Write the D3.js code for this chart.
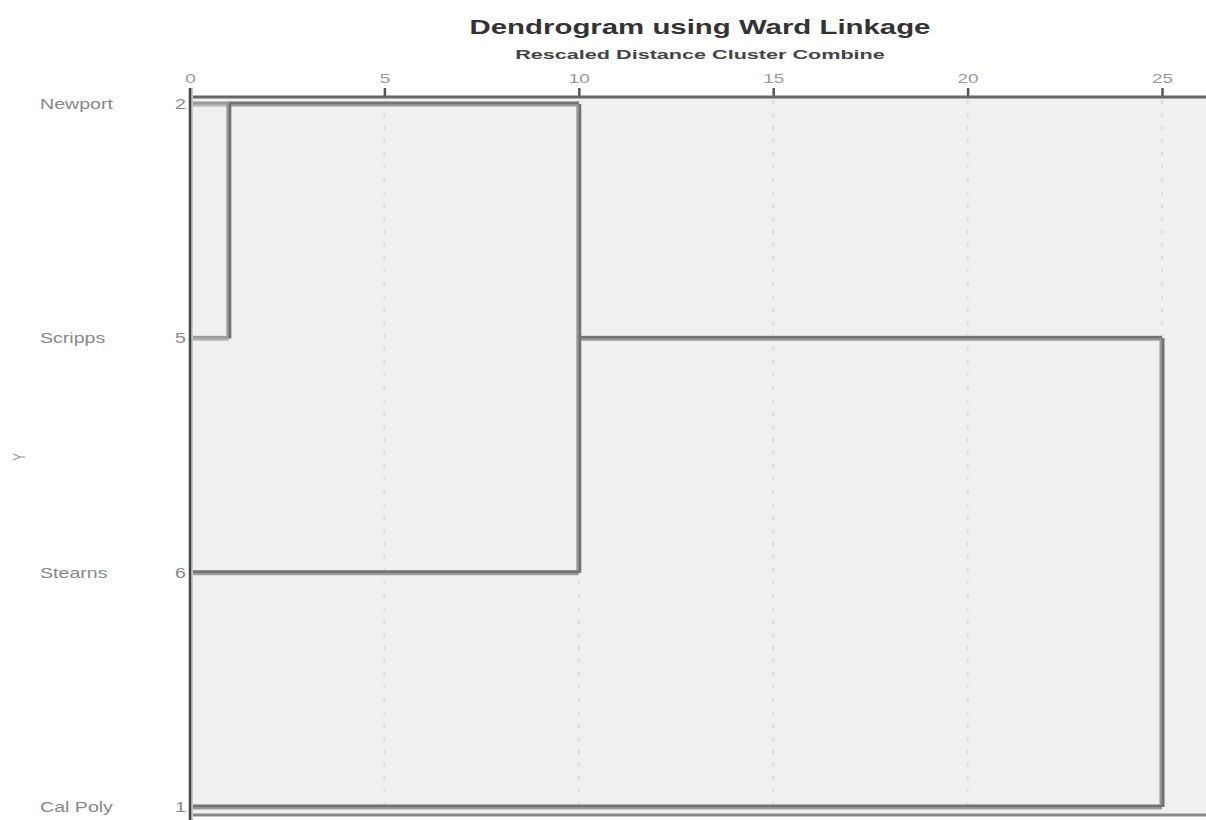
<!DOCTYPE html>
<html><head><meta charset="utf-8">
<script src="https://cdn.jsdelivr.net/npm/d3@7"></script>
<style>body{margin:0;background:#fff}svg{display:block}</style>
</head><body>
<svg id="c" width="1206" height="820"></svg>
<script>
const labels = ["Newport", "Scripps", "Stearns", "Cal Poly"];
const caseNums = ["2", "5", "6", "1"];
const ticks = [0, 5, 10, 15, 20, 25];
// merges: children (leaf labels or previous merge "m#"), rescaled distance, row where the cluster's line exits
const mergeChildren = [["Newport", "Scripps"], ["m0", "Stearns"], ["m1", "Cal Poly"]];
const mergeHeights = [1, 10, 25];
const mergeExitRow = ["Newport", "Scripps", null];

const svg = d3.select("#c");
const x = d3.scaleLinear().domain([0, 25]).range([190, 1162]);
const y = d3.scalePoint().domain(labels).range([104, 807]);
const SX = 1.4; // horizontal stretch of text as in the reference
const FONT = "Liberation Sans, Arial, sans-serif";

// plot background
svg.append("rect").attr("x", 190).attr("y", 97).attr("width", 1016).attr("height", 717).attr("fill", "#f0f0f0");

// dotted gridlines
svg.append("g").selectAll("line").data(ticks.slice(1)).join("line")
  .attr("x1", d => x(d)).attr("x2", d => x(d)).attr("y1", 100).attr("y2", 814)
  .attr("stroke", "#dcdcdc").attr("stroke-width", 2).attr("stroke-dasharray", "4,9");

// top axis
const axis = d3.axisTop(x).tickValues(ticks).tickSize(9).tickPadding(5);
const ag = svg.append("g").attr("transform", "translate(0,97)").call(axis);
ag.select(".domain").remove();
ag.selectAll(".tick line").attr("stroke", "#555").attr("stroke-width", 2.5);
ag.selectAll(".tick text").attr("fill", "#999").attr("font-family", FONT).attr("font-size", 13.5)
  .attr("transform", `scale(${SX},1)`);
svg.append("line").attr("x1", 190).attr("x2", 1206).attr("y1", 97).attr("y2", 97).attr("stroke", "#666").attr("stroke-width", 3);
svg.append("line").attr("x1", 190).attr("x2", 1206).attr("y1", 815).attr("y2", 815).attr("stroke", "#888").attr("stroke-width", 3);

// dendrogram
const rowOf = {};
labels.forEach(l => rowOf[l] = y(l));
const xOf = {};
labels.forEach(l => xOf[l] = x(0));
const segs = [];
mergeChildren.forEach((ch, i) => {
  const hx = x(mergeHeights[i]);
  const ys = ch.map(c => rowOf[c]);
  ch.forEach(c => segs.push({x1: xOf[c], x2: hx, y1: rowOf[c], y2: rowOf[c], leaf: labels.includes(c) && mergeHeights[i] <= 1}));
  segs.push({x1: hx, x2: hx, y1: d3.min(ys), y2: d3.max(ys)});
  const id = "m" + i;
  rowOf[id] = mergeExitRow[i] ? y(mergeExitRow[i]) : null;
  xOf[id] = hx;
});
const dg = svg.append("g");
dg.selectAll("line.halo").data(segs).join("line")
  .attr("x1", d => d.x1).attr("x2", d => d.x2).attr("y1", d => d.y1).attr("y2", d => d.y2)
  .attr("stroke", d => d.leaf ? "#b4b4b4" : "#9a9a9a").attr("stroke-width", 5);
dg.selectAll("line.core").data(segs).join("line")
  .attr("x1", d => d.x1).attr("x2", d => d.x2).attr("y1", d => d.y1 - (d.y1 === d.y2 ? 1 : 0)).attr("y2", d => d.y2 - (d.y1 === d.y2 ? 1 : 0))
  .attr("transform", d => d.y1 === d.y2 ? null : "translate(1,0)")
  .attr("stroke", d => d.leaf ? "#9a9a9a" : "#727272").attr("stroke-width", 2.5);

// left axis line
svg.append("line").attr("x1", 191).attr("x2", 191).attr("y1", 88).attr("y2", 820).attr("stroke", "#c8c8c8").attr("stroke-width", 4);
svg.append("line").attr("x1", 190).attr("x2", 190).attr("y1", 88).attr("y2", 820).attr("stroke", "#444").attr("stroke-width", 2.5);

function stretchedText(g, px, py, txt, anchor) {
  return g.append("text").attr("transform", `translate(${px},${py}) scale(${SX},1)`)
    .attr("text-anchor", anchor || "start").text(txt).attr("font-family", FONT);
}

// row labels and case numbers
const lg = svg.append("g");
labels.forEach((l, i) => {
  stretchedText(lg, 40, y(l) + 5, l).attr("fill", "#888").attr("font-size", 14);
  stretchedText(lg, 186, y(l) + 5, caseNums[i], "end").attr("fill", "#888").attr("font-size", 14);
});

// Y axis title
svg.append("text").attr("transform", "translate(25,457) rotate(-90) scale(1,1.4)").attr("text-anchor", "middle")
  .text("Y").attr("fill", "#999").attr("font-family", FONT).attr("font-size", 12);

// titles
stretchedText(svg, 700, 34, "Dendrogram using Ward Linkage", "middle")
  .attr("fill", "#333").attr("font-weight", "bold").attr("font-size", 21);
stretchedText(svg, 700, 59, "Rescaled Distance Cluster Combine", "middle")
  .attr("fill", "#444").attr("font-weight", "bold").attr("font-size", 13)
  .attr("textLength", 264).attr("lengthAdjust", "spacingAndGlyphs");
</script>
</body></html>
